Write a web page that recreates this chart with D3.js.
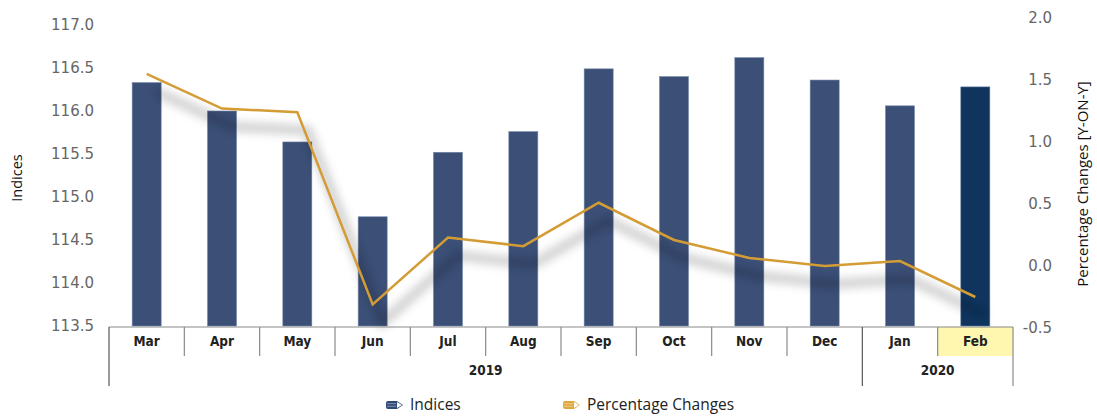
<!DOCTYPE html>
<html>
<head>
<meta charset="utf-8">
<script src="https://cdn.jsdelivr.net/npm/d3@7"></script>
<style>
  body { margin: 0; background: #fff; }
  svg { display: block; }
  .tick { font-family: "DejaVu Sans", sans-serif; font-size: 15px; fill: #666; }
  .cat { font-family: "Liberation Sans Narrow", "DejaVu Sans", sans-serif; font-stretch: condensed; font-weight: bold; font-size: 13.5px; fill: #222; }
</style>
</head>
<body>
<div id="chart"></div>
<script>
const months = ['Mar', 'Apr', 'May', 'Jun', 'Jul', 'Aug', 'Sep', 'Oct', 'Nov', 'Dec', 'Jan', 'Feb'];
const years = [{ label: '2019', first: 'Mar', last: 'Dec' }, { label: '2020', first: 'Jan', last: 'Feb' }];
const indices = [116.33, 116.00, 115.64, 114.77, 115.52, 115.76, 116.49, 116.40, 116.62, 116.36, 116.06, 116.28];
const pctChanges = [1.55, 1.27, 1.24, -0.31, 0.23, 0.16, 0.51, 0.21, 0.065, 0.0, 0.04, -0.25];
const leftTicks = [113.5, 114.0, 114.5, 115.0, 115.5, 116.0, 116.5, 117.0];
const rightTicks = [-0.5, 0.0, 0.5, 1.0, 1.5, 2.0];

const width = 1097, height = 418;
const plotLeft = 109, plotRight = 1013;
const axisY = 327;

const svg = d3.select('#chart').append('svg')
  .attr('width', width)
  .attr('height', height);

// blur for the line shadow
const defs = svg.append('defs');
defs.append('filter').attr('id', 'shadow')
  .attr('x', '-10%').attr('y', '-20%').attr('width', '120%').attr('height', '140%')
  .append('feGaussianBlur').attr('stdDeviation', 5);

const x = d3.scaleBand()
  .domain(months)
  .range([plotLeft, plotRight])
  .paddingInner(0.615)
  .paddingOuter(0.3075);

const yLeft = d3.scaleLinear().domain([113.5, 117.0]).range([326, 25]);
const yRight = d3.scaleLinear().domain([-0.5, 2.0]).range([328, 18]);

const cx = d => x(d) + x.bandwidth() / 2;

// bars
svg.append('g').selectAll('rect')
  .data(indices)
  .enter()
  .append('rect')
  .attr('x', (d, i) => x(months[i]))
  .attr('y', d => yLeft(d))
  .attr('width', x.bandwidth())
  .attr('height', d => yLeft(113.5) - yLeft(d))
  .attr('fill', (d, i) => i === months.length - 1 ? '#0f355f' : '#3b4f77')
  .attr('stroke', (d, i) => i === months.length - 1 ? '#5d7699' : '#7185a8')
  .attr('stroke-width', 0.6);

// line + shadow
const line = d3.line()
  .x((d, i) => cx(months[i]))
  .y(d => yRight(d));

svg.append('path')
  .datum(pctChanges)
  .attr('d', line)
  .attr('fill', 'none')
  .attr('stroke', '#000')
  .attr('stroke-opacity', 0.2)
  .attr('stroke-width', 9)
  .attr('transform', 'translate(10,18)')
  .attr('filter', 'url(#shadow)');

svg.append('path')
  .datum(pctChanges)
  .attr('d', line)
  .attr('fill', 'none')
  .attr('stroke', '#d49c35')
  .attr('stroke-width', 2.5);

// tick labels
svg.append('g').selectAll('text')
  .data(leftTicks)
  .enter()
  .append('text')
  .attr('class', 'tick')
  .attr('x', 94)
  .attr('y', d => yLeft(d))
  .attr('dy', '0.35em')
  .attr('text-anchor', 'end')
  .text(d => d.toFixed(1));

svg.append('g').selectAll('text')
  .data(rightTicks)
  .enter()
  .append('text')
  .attr('class', 'tick')
  .attr('x', 1052)
  .attr('y', d => yRight(d))
  .attr('dy', '0.35em')
  .attr('text-anchor', 'end')
  .text(d => d.toFixed(1));

// axis titles
svg.append('text')
  .attr('transform', 'translate(22,178) rotate(-90)')
  .attr('text-anchor', 'middle')
  .attr('font-family', '"Open Sans", "Noto Sans", sans-serif')
  .attr('font-size', '14.5px')
  .attr('fill', '#111')
  .text('Indices');

svg.append('text')
  .attr('transform', 'translate(1088,184) rotate(-90)')
  .attr('text-anchor', 'middle')
  .attr('font-family', '"Open Sans", "Noto Sans", sans-serif')
  .attr('font-size', '15px')
  .attr('fill', '#111')
  .text('Percentage Changes [Y-ON-Y]');

// category axis
const axisG = svg.append('g');
const step = x.step();
const cellLeft = m => x(m) - x.paddingOuter() * step;

axisG.append('rect')
  .attr('x', cellLeft('Feb'))
  .attr('y', axisY)
  .attr('width', step)
  .attr('height', 29)
  .attr('fill', '#fff7b0');

axisG.append('line')
  .attr('x1', plotLeft).attr('x2', plotRight)
  .attr('y1', axisY).attr('y2', axisY)
  .attr('stroke', '#8a8a8a').attr('stroke-width', 1.2);

months.forEach(m => {
  const left = cellLeft(m);
  const isYearStart = years.some(y => y.first === m);
  axisG.append('line')
    .attr('x1', left).attr('x2', left)
    .attr('y1', axisY).attr('y2', isYearStart ? 386 : 356)
    .attr('stroke', isYearStart ? '#555' : '#8a8a8a').attr('stroke-width', 1.2);
  axisG.append('text')
    .attr('class', 'cat')
    .attr('x', cx(m))
    .attr('y', 346)
    .attr('text-anchor', 'middle')
    .text(m);
});
axisG.append('line')
  .attr('x1', plotRight).attr('x2', plotRight)
  .attr('y1', axisY).attr('y2', 386)
  .attr('stroke', '#8a8a8a').attr('stroke-width', 1.2);

years.forEach(y => {
  const l = cellLeft(y.first);
  const r = cellLeft(y.last) + step;
  axisG.append('text')
    .attr('class', 'cat')
    .attr('x', (l + r) / 2)
    .attr('y', 375)
    .attr('text-anchor', 'middle')
    .text(y.label);
});

// legend
const legendItems = [
  { name: 'Indices', color: '#2f4a78', x: 386 },
  { name: 'Percentage Changes', color: '#e0a940', x: 563 }
];
const leg = svg.append('g').selectAll('g')
  .data(legendItems)
  .enter()
  .append('g')
  .attr('transform', d => `translate(${d.x},405)`);

leg.append('path')
  .attr('d', 'M2,-4 L11,-4 L17,0 L11,4 L2,4 Q0,4 0,2 L0,-2 Q0,-4 2,-4 Z')
  .attr('fill', d => d.color);
leg.append('path')
  .attr('d', 'M11,-3 L16,0 L11,3 Z')
  .attr('fill', '#fff');
leg.append('line')
  .attr('x1', 1).attr('x2', 10).attr('y1', -1.3).attr('y2', -1.3)
  .attr('stroke', '#fff').attr('stroke-opacity', 0.5).attr('stroke-width', 0.8);
leg.append('line')
  .attr('x1', 1).attr('x2', 10).attr('y1', 1.3).attr('y2', 1.3)
  .attr('stroke', '#fff').attr('stroke-opacity', 0.5).attr('stroke-width', 0.8);
leg.append('text')
  .attr('x', 24)
  .attr('y', 0)
  .attr('dy', '0.35em')
  .attr('font-family', '"Open Sans", "Noto Sans", sans-serif')
  .attr('font-size', '15.5px')
  .attr('fill', '#222')
  .text(d => d.name);
</script>
</body>
</html>
